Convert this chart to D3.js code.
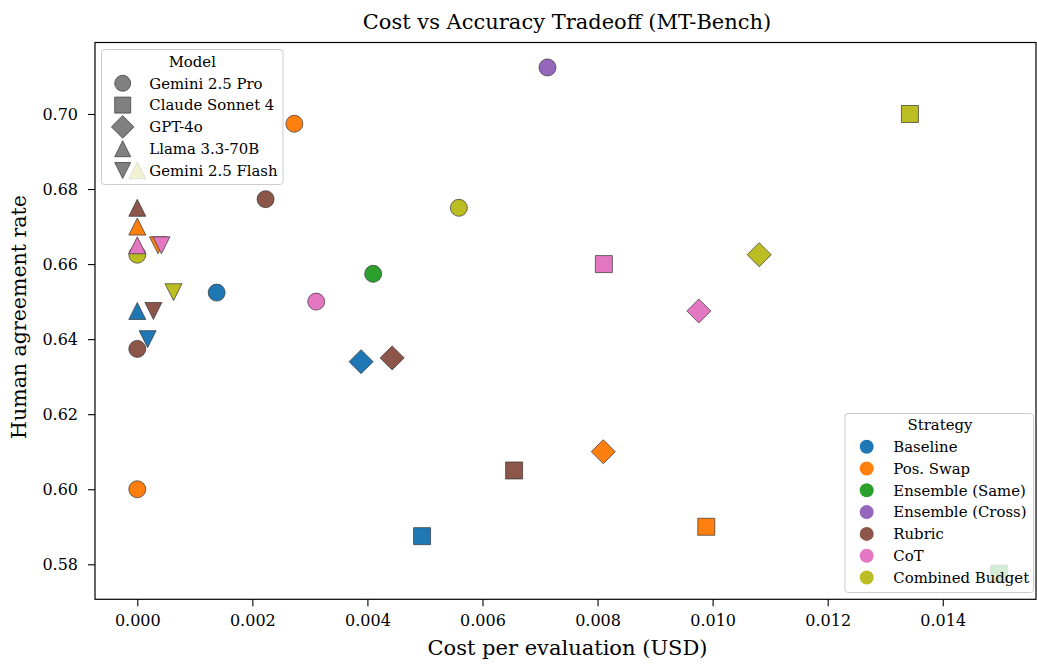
<!DOCTYPE html>
<html>
<head>
<meta charset="utf-8">
<script src="https://cdn.jsdelivr.net/npm/d3@7"></script>
<style>
  body { margin: 0; background: #fff; }
  svg text { font-family: "DejaVu Serif", serif; fill: #000; }
</style>
</head>
<body>
<div id="chart"></div>
<script>
// legend categories
const models = ['Gemini 2.5 Pro', 'Claude Sonnet 4', 'GPT-4o', 'Llama 3.3-70B', 'Gemini 2.5 Flash'];
const strategies = ['Baseline', 'Pos. Swap', 'Ensemble (Same)', 'Ensemble (Cross)', 'Rubric', 'CoT', 'Combined Budget'];
const strategyColors = ['#1f77b4', '#ff7f0e', '#2ca02c', '#9467bd', '#8c564b', '#e377c2', '#bcbd22'];
const modelShapes = ['circle', 'square', 'diamond', 'triangleUp', 'triangleDown'];

// one entry per point, in drawing order
const pointModel    = [4, 0, 0, 0, 0, 0, 0, 0, 0, 0, 0,
                       1, 1, 1, 1, 1, 1,
                       2, 2, 2, 2, 2,
                       3, 3, 3, 3, 3,
                       4, 4, 4, 4];
const pointStrategy = [0, 0, 1, 1, 2, 3, 4, 4, 5, 6, 6,
                       0, 1, 2, 4, 5, 6,
                       0, 1, 4, 5, 6,
                       0, 1, 4, 5, 6,
                       1, 4, 5, 6];
const pointCost     = [0.00018, 0.00138, 0.00273, 0.0, 0.00410, 0.00713, 0.00223, 0.0, 0.00311, 0.00559, 0.0,
                       0.00495, 0.00989, 0.01498, 0.00655, 0.00811, 0.01343,
                       0.00389, 0.00810, 0.00443, 0.00976, 0.01081,
                       0.0, 0.0, 0.0, 0.0, 0.0,
                       0.00036, 0.00028, 0.00042, 0.00063];
const pointAgreement = [0.640, 0.6524, 0.6974, 0.600, 0.6574, 0.7124, 0.6773, 0.6374, 0.650, 0.675, 0.6625,
                        0.5875, 0.590, 0.5775, 0.605, 0.660, 0.700,
                        0.634, 0.610, 0.635, 0.6475, 0.6625,
                        0.6475, 0.670, 0.675, 0.665, 0.685,
                        0.665, 0.6475, 0.665, 0.6525];

const xTicks = [0, 0.002, 0.004, 0.006, 0.008, 0.010, 0.012, 0.014];
const yTicks = [0.58, 0.60, 0.62, 0.64, 0.66, 0.68, 0.70];

const width = 1037, height = 664;
const plot = { left: 95, right: 1036, top: 42.5, bottom: 599.3 };

const svg = d3.select('#chart').append('svg')
  .attr('width', width)
  .attr('height', height);

const x = d3.scaleLinear().domain([-0.000735, 0.015621]).range([plot.left, plot.right]);
const y = d3.scaleLinear().domain([0.57067, 0.71905]).range([plot.bottom, plot.top]);

// matplotlib-like marker shapes, size = marker width in px
const shapes = {
  circle: { draw(ctx, s) { ctx.moveTo(s / 2, 0); ctx.arc(0, 0, s / 2, 0, 2 * Math.PI); } },
  square: { draw(ctx, s) { ctx.rect(-s / 2, -s / 2, s, s); } },
  diamond: { draw(ctx, s) { const r = s * Math.SQRT2 / 2; ctx.moveTo(0, -r); ctx.lineTo(r, 0); ctx.lineTo(0, r); ctx.lineTo(-r, 0); ctx.closePath(); } },
  triangleUp: { draw(ctx, s) { const h = s / 2; ctx.moveTo(0, -h); ctx.lineTo(h, h); ctx.lineTo(-h, h); ctx.closePath(); } },
  triangleDown: { draw(ctx, s) { const h = s / 2; ctx.moveTo(0, h); ctx.lineTo(h, -h); ctx.lineTo(-h, -h); ctx.closePath(); } }
};
const marker = (shape, s) => d3.symbol().type(shapes[shape]).size(s)();

// axes
const xAxis = svg.append('g')
  .attr('transform', `translate(0,${plot.bottom})`)
  .call(d3.axisBottom(x).tickValues(xTicks).tickFormat(d3.format('.3f')).tickSize(7).tickPadding(8).tickSizeOuter(0));
const yAxis = svg.append('g')
  .attr('transform', `translate(${plot.left},0)`)
  .call(d3.axisLeft(y).tickValues(yTicks).tickFormat(d3.format('.2f')).tickSize(7).tickPadding(10).tickSizeOuter(0));
[xAxis, yAxis].forEach(a => {
  a.select('.domain').remove();
  a.selectAll('.tick line').attr('stroke', '#000').attr('stroke-width', 1.1);
  a.selectAll('.tick text').attr('font-family', 'DejaVu Serif').attr('font-size', 16).attr('fill', '#000');
});

// points
const idx = d3.range(pointCost.length);
svg.append('g')
  .selectAll('path')
  .data(idx)
  .join('path')
  .attr('transform', i => `translate(${x(pointCost[i])},${y(pointAgreement[i])})`)
  .attr('d', i => marker(modelShapes[pointModel[i]], 17))
  .attr('fill', i => strategyColors[pointStrategy[i]])
  .attr('stroke', '#333')
  .attr('stroke-width', 0.7);

// frame
svg.append('rect')
  .attr('x', plot.left).attr('y', plot.top)
  .attr('width', plot.right - plot.left).attr('height', plot.bottom - plot.top)
  .attr('fill', 'none').attr('stroke', '#000').attr('stroke-width', 1.2);

// titles
svg.append('text')
  .attr('x', 567).attr('y', 29)
  .attr('text-anchor', 'middle').attr('font-size', 21)
  .text('Cost vs Accuracy Tradeoff (MT-Bench)');
svg.append('text')
  .attr('x', 567.5).attr('y', 655)
  .attr('text-anchor', 'middle').attr('font-size', 21)
  .text('Cost per evaluation (USD)');
svg.append('text')
  .attr('transform', 'translate(26,317) rotate(-90)')
  .attr('text-anchor', 'middle').attr('font-size', 20.5)
  .text('Human agreement rate');

// legends
function legend(box, title, labels, drawMarker) {
  const g = svg.append('g');
  g.append('rect')
    .attr('x', box.x).attr('y', box.y).attr('width', box.w).attr('height', box.h)
    .attr('rx', 3)
    .attr('fill', '#fff').attr('fill-opacity', 0.8)
    .attr('stroke', '#ccc').attr('stroke-width', 1);
  g.append('text')
    .attr('x', box.titleX).attr('y', box.titleY).attr('dy', '0.35em')
    .attr('text-anchor', 'middle').attr('font-size', 14.9)
    .text(title);
  labels.forEach((label, i) => {
    const ry = box.rowY + i * 21.8;
    drawMarker(g, i, box.markerX, ry);
    g.append('text')
      .attr('x', box.textX).attr('y', ry).attr('dy', '0.35em')
      .attr('font-size', 14.9)
      .text(label);
  });
}

legend({ x: 101.5, y: 49.5, w: 181.5, h: 135, titleX: 192.3, titleY: 61.7, rowY: 83.3, markerX: 122.7, textX: 149.3 },
  'Model', models, (g, i, mx, my) => {
    g.append('path')
      .attr('transform', `translate(${mx},${my})`)
      .attr('d', marker(modelShapes[i], 16))
      .attr('fill', 'gray').attr('stroke', '#333').attr('stroke-width', 0.7);
  });

legend({ x: 845, y: 413.5, w: 188.5, h: 179, titleX: 940, titleY: 425, rowY: 446.7, markerX: 866.7, textX: 893.3 },
  'Strategy', strategies, (g, i, mx, my) => {
    g.append('circle')
      .attr('cx', mx).attr('cy', my).attr('r', 7)
      .attr('fill', strategyColors[i]);
  });
</script>
</body>
</html>
